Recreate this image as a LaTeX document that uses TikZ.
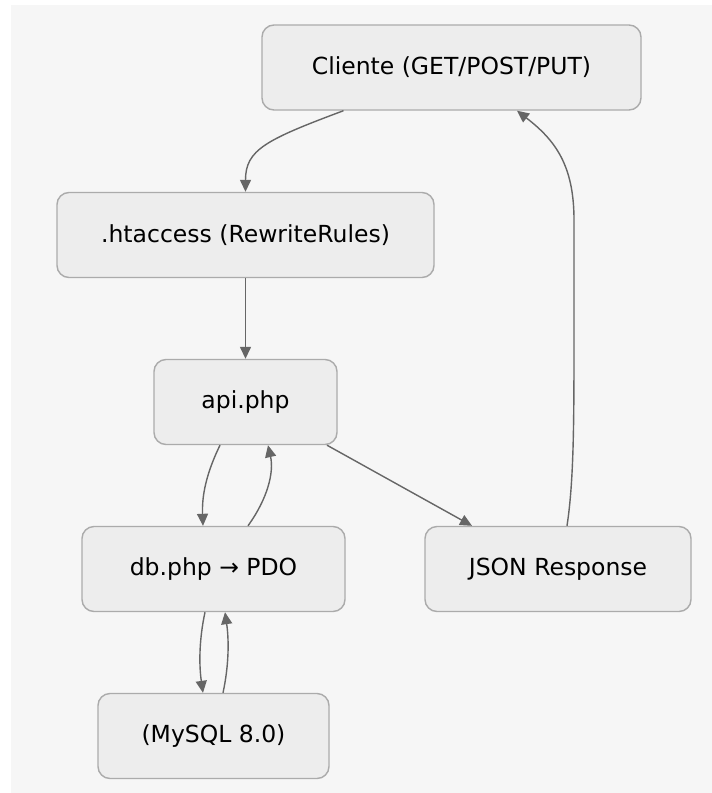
\documentclass[tikz,border=0pt]{standalone}
\usepackage{fontspec}
\setmainfont{DejaVu Sans}
\usetikzlibrary{arrows.meta}
\definecolor{bgc}{HTML}{F6F6F6}
\definecolor{nodefill}{HTML}{EDEDED}
\definecolor{nodeline}{HTML}{ABABAB}
\definecolor{edgec}{HTML}{666666}
\tikzset{
  box/.style={draw=nodeline, fill=nodefill, line width=1.4pt, rounded corners=12pt,
    minimum height=85pt, inner sep=0pt, font=\fontsize{23.5pt}{27pt}\selectfont, text=black},
  link/.style={draw=edgec, line width=1.4pt, -{Triangle[length=12pt,width=11pt]}}
}
\begin{document}
\begin{tikzpicture}[x=1pt,y=-1pt]
\useasboundingbox (0,0) rectangle (712,793);
\fill[white] (0,0) rectangle (712,793);
\fill[bgc] (11,5) rectangle (712,793);

\node[box, minimum width=379pt] (cli) at (451.5,67.5) {Cliente (GET/POST/PUT)};
\node[box, minimum width=377pt] (hta) at (245.5,235) {.htaccess (RewriteRules)};
\node[box, minimum width=183pt] (api) at (245.5,402) {api.php};
\node[box, minimum width=263pt] (db) at (213.5,569) {db.php → PDO};
\node[box, minimum width=231pt] (sql) at (213.5,736) {(MySQL 8.0)};
\node[box, minimum width=266pt] (json) at (558,569) {JSON Response};

\draw[link] ([xshift=-108pt]cli.south) .. controls (265,140) and (245.5,150) .. (hta.north);
\draw[link] (hta.south) -- (api.north);
\draw[link] ([xshift=-25.5pt]api.south) .. controls (204,478) and (202,500) .. ([xshift=-10.5pt]db.north);
\draw[link] ([xshift=34.5pt]db.north) .. controls (268,498) and (274,472) .. ([xshift=22.5pt]api.south);
\draw[link] ([xshift=81.5pt]api.south) -- ([xshift=-86pt]json.north);
\draw[link] ([xshift=9pt]json.north) .. controls (574,480) and (574,420) .. (574,330)
   -- (574,220) .. controls (574,165) and (555,140) .. ([xshift=65.5pt]cli.south);
\draw[link] ([xshift=-8.5pt]db.south) .. controls (199,640) and (199,665) .. ([xshift=-10.5pt]sql.north);
\draw[link] ([xshift=9.5pt]sql.north) .. controls (229,665) and (229,640) .. ([xshift=11.5pt]db.south);
\end{tikzpicture}
\end{document}
